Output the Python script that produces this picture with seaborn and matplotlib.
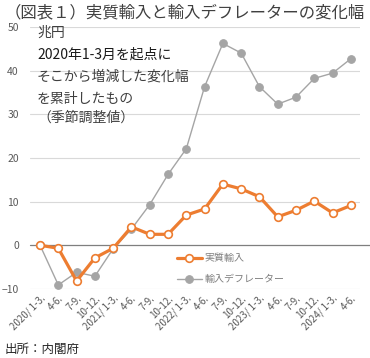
import pandas as pd
import seaborn as sns
import matplotlib
matplotlib.use('Agg')
from matplotlib import pyplot as plt

quarters = ['2020/ 1-3.', '4-6.', '7-9.', '10-12.',
            '2021/ 1-3.', '4-6.', '7-9.', '10-12.',
            '2022/ 1-3.', '4-6.', '7-9.', '10-12.',
            '2023/ 1-3.', '4-6.', '7-9.', '10-12.',
            '2024/ 1-3.', '4-6.']
real_imports = [0, -0.7, -8.2, -2.9, -0.7, 4.2, 2.5, 2.5, 6.9, 8.3,
                14.0, 12.9, 11.1, 6.5, 8.0, 10.1, 7.4, 9.1]
deflator = [0, -9.1, -6.2, -7.1, -0.8, 3.7, 9.3, 16.2, 22.1, 36.3,
            46.2, 44.0, 36.3, 32.3, 33.9, 38.2, 39.4, 42.7]
series_names = ['実質輸入', '輸入デフレーター']

sns.set_style('white')
plt.rcParams['font.family'] = ['Noto Sans CJK JP', 'DejaVu Sans']

df = pd.DataFrame({'idx': range(len(quarters)),
                   series_names[0]: real_imports,
                   series_names[1]: deflator})

fig = plt.figure(figsize=(3.7, 3.58), dpi=100)
ax = fig.add_axes([0.081, 0.193, 0.892, 0.732])

# グリッド
for v in [10, 20, 30, 40, 50, -10]:
    ax.axhline(v, color='#d9d9d9', lw=0.8, zorder=0)
ax.axhline(0, xmin=0, xmax=1.03, color='#7f7f7f', lw=0.9, zorder=1, clip_on=False)

sns.lineplot(data=df, x='idx', y=series_names[0], ax=ax, color='#ED7D31',
             lw=2.3, marker='o', markersize=5.5, markerfacecolor='white',
             markeredgecolor='#ED7D31', markeredgewidth=1.2,
             label=series_names[0], zorder=3)
sns.lineplot(data=df, x='idx', y=series_names[1], ax=ax, color='#A5A5A5',
             lw=1.0, marker='o', markersize=5.5, markerfacecolor='#A5A5A5',
             markeredgecolor='#A5A5A5', label=series_names[1], zorder=2)

ax.set_xlim(-0.55, 17.5)
ax.set_ylim(-10, 50)
ax.set_yticks([-10, 0, 10, 20, 30, 40, 50])
ax.set_xticks(range(len(quarters)))
ax.set_xticklabels(quarters, rotation=45, ha='right', rotation_mode='anchor',
                   fontsize=7, color='#595959')
ax.tick_params(axis='y', labelsize=7.5, labelcolor='#595959', length=0, pad=8)
ax.tick_params(axis='x', length=0, pad=3)
ax.set_xlabel('')
ax.set_ylabel('')
for s in ax.spines.values():
    s.set_visible(False)

ax.legend(loc='upper left', bbox_to_anchor=(0.43, 0.155), frameon=False,
          fontsize=7.2, labelcolor='#7f7f7f', handlelength=2.5,
          labelspacing=1.1, borderpad=0, handletextpad=0.3)

# 注記
notes = ['兆円', '2020年1-3月を起点に', 'そこから増減した変化幅', 'を累計したもの', '（季節調整値）']
note_y = [33, 55, 77, 99, 118]
for t, yy in zip(notes, note_y):
    fig.text(37 / 370, 1 - yy / 358, t, fontsize=10, va='center', ha='left',
             color='#1a1a1a' if t.startswith('2020') else '#404040')

fig.text(5 / 370, 1 - 13 / 358, '（図表１）実質輸入と輸入デフレーターの変化幅',
         fontsize=11.8, va='center', ha='left', color='#404040')
fig.text(5 / 370, 1 - 349 / 358, '出所：内閣府', fontsize=9, va='center',
         ha='left', color='#262626')

fig.savefig('out.png', dpi=100)
